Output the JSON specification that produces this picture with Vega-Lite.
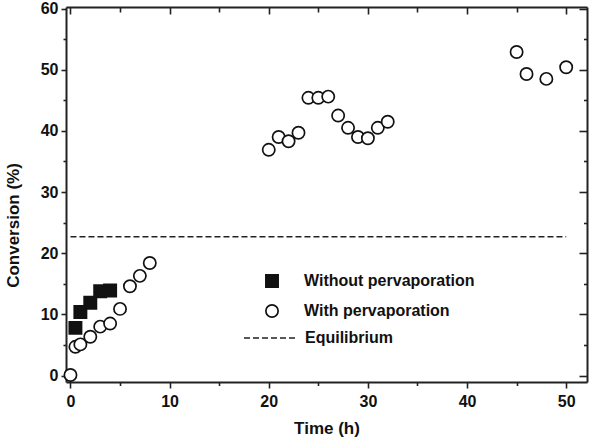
{
  "$schema": "https://vega.github.io/schema/vega-lite/v6.json",
  "width": 521,
  "height": 375,
  "autosize": {"type": "none"},
  "padding": {"left": 66, "top": 7, "right": 8, "bottom": 56},
  "background": "white",
  "config": {
    "view": {"stroke": null},
    "font": "Liberation Sans",
    "axis": {
      "domainColor": "#222",
      "domainWidth": 2,
      "tickColor": "#222",
      "tickWidth": 1.6,
      "grid": false,
      "labelFont": "Liberation Sans",
      "labelFontWeight": "bold",
      "labelFontSize": 16,
      "labelColor": "#111",
      "titleFont": "Liberation Sans",
      "titleFontWeight": "bold",
      "titleFontSize": 17,
      "titleColor": "#111"
    },
    "legend": {
      "labelFont": "Liberation Sans",
      "labelFontWeight": "bold",
      "labelFontSize": 16,
      "labelColor": "#111",
      "labelLimit": 400,
      "padding": 0
    }
  },
  "datasets": {
    "conversion": [
      {"time": 0.5, "conversion": 7.8, "series": "Without pervaporation"},
      {"time": 1, "conversion": 10.4, "series": "Without pervaporation"},
      {"time": 2, "conversion": 11.9, "series": "Without pervaporation"},
      {"time": 3, "conversion": 13.8, "series": "Without pervaporation"},
      {"time": 4, "conversion": 13.9, "series": "Without pervaporation"},
      {"time": 0, "conversion": 0.1, "series": "With pervaporation"},
      {"time": 0.5, "conversion": 4.7, "series": "With pervaporation"},
      {"time": 1, "conversion": 5.1, "series": "With pervaporation"},
      {"time": 2, "conversion": 6.35, "series": "With pervaporation"},
      {"time": 3, "conversion": 8.0, "series": "With pervaporation"},
      {"time": 4, "conversion": 8.5, "series": "With pervaporation"},
      {"time": 5, "conversion": 10.9, "series": "With pervaporation"},
      {"time": 6, "conversion": 14.6, "series": "With pervaporation"},
      {"time": 7, "conversion": 16.3, "series": "With pervaporation"},
      {"time": 8, "conversion": 18.4, "series": "With pervaporation"},
      {"time": 20, "conversion": 36.9, "series": "With pervaporation"},
      {"time": 21, "conversion": 39.0, "series": "With pervaporation"},
      {"time": 22, "conversion": 38.3, "series": "With pervaporation"},
      {"time": 23, "conversion": 39.7, "series": "With pervaporation"},
      {"time": 24, "conversion": 45.4, "series": "With pervaporation"},
      {"time": 25, "conversion": 45.4, "series": "With pervaporation"},
      {"time": 26, "conversion": 45.6, "series": "With pervaporation"},
      {"time": 27, "conversion": 42.5, "series": "With pervaporation"},
      {"time": 28, "conversion": 40.5, "series": "With pervaporation"},
      {"time": 29, "conversion": 39.0, "series": "With pervaporation"},
      {"time": 30, "conversion": 38.8, "series": "With pervaporation"},
      {"time": 31, "conversion": 40.5, "series": "With pervaporation"},
      {"time": 32, "conversion": 41.5, "series": "With pervaporation"},
      {"time": 45, "conversion": 52.9, "series": "With pervaporation"},
      {"time": 46, "conversion": 49.3, "series": "With pervaporation"},
      {"time": 48, "conversion": 48.5, "series": "With pervaporation"},
      {"time": 50, "conversion": 50.4, "series": "With pervaporation"}
    ],
    "equilibrium": [
      {"t_start": 0, "t_end": 50, "conversion": 22.7, "series": "Equilibrium"}
    ]
  },
  "layer": [
    {
      "data": {"name": "equilibrium"},
      "mark": {"type": "rule", "strokeWidth": 1.6, "color": "#222"},
      "encoding": {
        "x": {
          "field": "t_start",
          "type": "quantitative",
          "scale": {"domain": [-0.45, 52.1], "nice": false, "zero": false},
          "axis": {
            "orient": "bottom",
            "title": "Time (h)",
            "values": [0, 5, 10, 15, 20, 25, 30, 35, 40, 45, 50],
            "labelExpr": "datum.value % 10 === 0 ? datum.label : ''",
            "tickSize": {"condition": {"test": "datum.value % 10 === 0", "value": 6}, "value": 3.5},
            "labelPadding": 5,
            "titleY": 51,
            "titleBaseline": "alphabetic"
          }
        },
        "x2": {"field": "t_end"},
        "y": {
          "field": "conversion",
          "type": "quantitative",
          "scale": {"domain": [-1.05, 60.25], "nice": false, "zero": false},
          "axis": {
            "orient": "left",
            "title": "Conversion (%)",
            "values": [0, 5, 10, 15, 20, 25, 30, 35, 40, 45, 50, 55, 60],
            "labelExpr": "datum.value % 10 === 0 ? datum.label : ''",
            "tickSize": {"condition": {"test": "datum.value % 10 === 0", "value": 5}, "value": 3},
            "labelPadding": 3,
            "titleX": -48,
            "titleY": 218,
            "titleBaseline": "alphabetic"
          }
        },
        "strokeDash": {
          "field": "series",
          "type": "nominal",
          "scale": {"range": [[6, 3]]},
          "legend": {
            "orient": "none",
            "legendX": 177,
            "legendY": 303,
            "title": null,
            "symbolType": "stroke",
            "symbolSize": 2916,
            "symbolStrokeWidth": 1.6,
            "symbolStrokeColor": "#222",
            "labelOffset": 6
          }
        }
      }
    },
    {
      "data": {"name": "conversion"},
      "mark": {"type": "point", "filled": true, "strokeWidth": 1.7, "opacity": 1, "size": 150},
      "encoding": {
        "x": {
          "field": "time",
          "type": "quantitative",
          "axis": {
            "orient": "top",
            "title": null,
            "labels": false,
            "values": [0, 5, 10, 15, 20, 25, 30, 35, 40, 45, 50],
            "tickSize": {"condition": {"test": "datum.value % 10 === 0", "value": -7}, "value": -5}
          }
        },
        "y": {
          "field": "conversion",
          "type": "quantitative",
          "axis": {
            "orient": "right",
            "title": null,
            "labels": false,
            "values": [0, 5, 10, 15, 20, 25, 30, 35, 40, 45, 50, 55, 60],
            "tickSize": {"condition": {"test": "datum.value % 10 === 0", "value": -8}, "value": -3.5}
          }
        },
        "shape": {
          "field": "series",
          "type": "nominal",
          "scale": {"domain": ["Without pervaporation", "With pervaporation"], "range": ["square", "circle"]},
          "legend": {
            "orient": "none",
            "legendX": 198,
            "legendY": 266,
            "title": null,
            "symbolSize": 150,
            "symbolStrokeWidth": 1.7,
            "rowPadding": 10,
            "labelOffset": 24
          }
        },
        "fill": {
          "field": "series",
          "type": "nominal",
          "scale": {"domain": ["Without pervaporation", "With pervaporation"], "range": ["#111111", "#ffffff"]},
          "legend": {
            "orient": "none",
            "legendX": 198,
            "legendY": 266,
            "title": null,
            "symbolSize": 150,
            "symbolStrokeWidth": 1.7,
            "rowPadding": 10,
            "labelOffset": 24
          }
        },
        "stroke": {
          "field": "series",
          "type": "nominal",
          "scale": {"domain": ["Without pervaporation", "With pervaporation"], "range": ["#111111", "#111111"]},
          "legend": {
            "orient": "none",
            "legendX": 198,
            "legendY": 266,
            "title": null,
            "symbolSize": 150,
            "symbolStrokeWidth": 1.7,
            "rowPadding": 10,
            "labelOffset": 24
          }
        }
      }
    }
  ],
  "resolve": {"axis": {"x": "independent", "y": "independent"}}
}
